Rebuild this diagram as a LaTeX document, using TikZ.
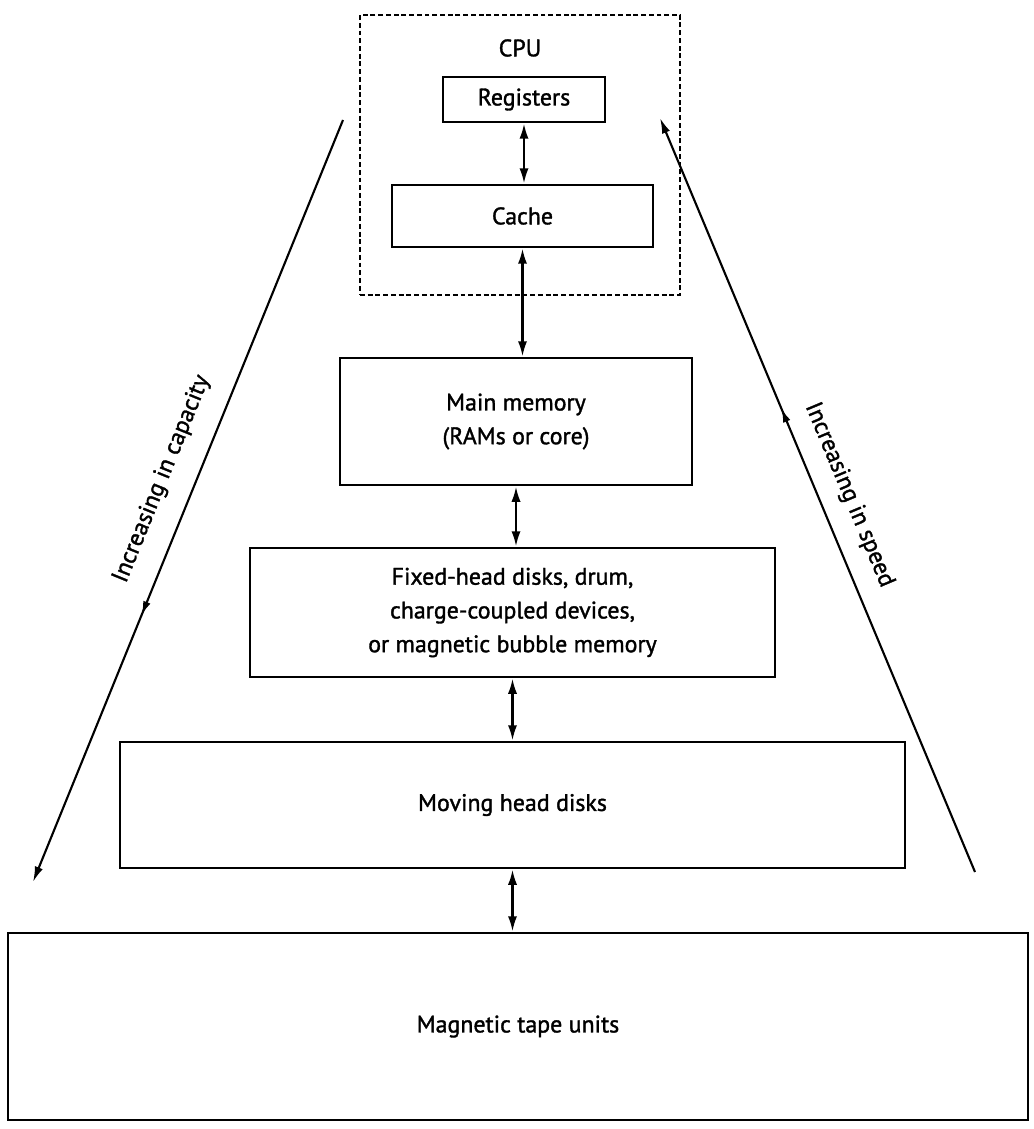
\documentclass[tikz,border=0pt]{standalone}
\usepackage{fontspec}
\setmainfont{PT Sans}[FakeBold=1.4]
\usetikzlibrary{arrows.meta,decorations.markings}

\begin{document}
\begin{tikzpicture}[x=0.025cm,y=-0.025cm,
  every node/.style={font=\fontsize{17}{24}\selectfont},
  unit/.style={draw, line width=1.8pt, inner sep=0pt, align=center},
  cpubox/.style={draw, line width=1.7pt, dash pattern=on 3.5pt off 2pt, inner sep=0pt},
  link/.style={line width=1.7pt, {Latex[length=11pt,width=6.5pt]}-{Latex[length=11pt,width=6.5pt]}},
  trend/.style={line width=1.5pt, -{Latex[length=11pt,width=6pt]}},
  midarrow/.style={decoration={markings,
      mark=at position #1 with {\arrow{Latex[length=10pt,width=5.5pt]}}},
    postaction=decorate}
]
% canvas
\fill[white] (0,0) rectangle (1033,1129);
\useasboundingbox (0,0) rectangle (1033,1129);

% processor: dashed frame with registers and cache
\node[cpubox, minimum width=8cm, minimum height=7cm] (cpu) at (520,155) {};
\node (cpulabel) at (520,48) {CPU};
\node[unit, minimum width=4.05cm, minimum height=1.125cm] (reg) at (524,99.5) {Registers};
\node[unit, minimum width=6.525cm, minimum height=1.55cm] (cache) at (522.5,216) {Cache};

% memory levels
\node[unit, minimum width=8.8cm, minimum height=3.175cm] (main) at (516,421.5)
  {Main memory\\(RAMs or core)};
\node[unit, minimum width=13.125cm, minimum height=3.225cm] (fixed) at (512.5,612.5)
  {Fixed-head disks, drum,\\charge-coupled devices,\\or magnetic bubble memory};
\node[unit, minimum width=19.625cm, minimum height=3.15cm] (moving) at (512.5,805)
  {Moving head disks};
\node[unit, minimum width=25.5cm, minimum height=4.675cm] (tape) at (518,1026.5)
  {Magnetic tape units};

% transfers between adjacent levels
\draw[link] (reg.south) -- (reg.south |- cache.north);
\draw[link] (cache.south) -- (cache.south |- main.north);
\draw[link] (main.south) -- (main.south |- fixed.north);
\draw[link] (fixed.south) -- (fixed.south |- moving.north);
\draw[link] (moving.south) -- (moving.south |- tape.north);

% trend arrows along both sides
\coordinate (capTop) at (343,120);
\coordinate (capBot) at (33,882);
\coordinate (spdBot) at (975,872);
\coordinate (spdTop) at (660,118);
\draw[trend, midarrow=0.65] (capTop) -- (capBot);
\draw[trend, midarrow=0.615] (spdBot) -- (spdTop);
\node[rotate=67.9] (caplabel) at (162,479) {Increasing in capacity};
\node[rotate=-67.3] (spdlabel) at (849,495) {Increasing in speed};
\end{tikzpicture}
\end{document}
